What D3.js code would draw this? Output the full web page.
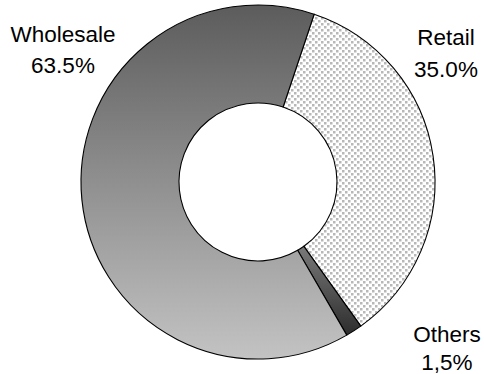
<!DOCTYPE html>
<html>
<head>
<meta charset="utf-8">
<script src="https://cdn.jsdelivr.net/npm/d3@7"></script>
<style>
  html, body { margin: 0; padding: 0; background: #fff; }
  svg { display: block; }
  text { font-family: "Liberation Sans", Arial, sans-serif; fill: #000; }
</style>
</head>
<body>
<svg id="chart" width="484" height="374"></svg>
<script>
// Sales split by channel (percent of total)
const categories = ["Retail", "Others", "Wholesale"];
const values = [35.0, 1.5, 63.5];
const valueLabels = ["35.0%", "1,5%", "63.5%"];

const width = 484, height = 374;
const cx = 258, cy = 182;
const outerR = 177, innerR = 79;
const startDeg = 18.5;

const svg = d3.select("#chart");
const defs = svg.append("defs");

// Wholesale: vertical grey ramp across the whole ring (ring-local coordinates)
const gW = defs.append("linearGradient")
  .attr("id", "fillWholesale")
  .attr("gradientUnits", "userSpaceOnUse")
  .attr("x1", 0).attr("x2", 0)
  .attr("y1", -outerR).attr("y2", outerR);
gW.append("stop").attr("offset", 0).attr("stop-color", "#5c5c5c");
gW.append("stop").attr("offset", 1).attr("stop-color", "#c3c3c3");

// Others: darker ramp inside its own slice
const gO = defs.append("linearGradient")
  .attr("id", "fillOthers")
  .attr("x1", 0).attr("x2", 0).attr("y1", 0).attr("y2", 1);
gO.append("stop").attr("offset", 0).attr("stop-color", "#7a7a7a");
gO.append("stop").attr("offset", 1).attr("stop-color", "#2c2c2c");

// Retail: soft stippled dot texture
const tile = 6;
const pat = defs.append("pattern")
  .attr("id", "fillRetail")
  .attr("patternUnits", "userSpaceOnUse")
  .attr("width", tile).attr("height", tile);
pat.append("rect").attr("width", tile).attr("height", tile).attr("fill", "#ffffff");
pat.append("rect").attr("x", 0).attr("y", 0).attr("width", 2.5).attr("height", 2.5).attr("fill", "#b8b8b8");
pat.append("rect").attr("x", 3).attr("y", 3).attr("width", 2.5).attr("height", 2.5).attr("fill", "#b8b8b8");

const fills = {
  Retail: "url(#fillRetail)",
  Others: "url(#fillOthers)",
  Wholesale: "url(#fillWholesale)"
};

const a0 = startDeg * Math.PI / 180;
const pie = d3.pie().sort(null).value(d => d.value)
  .startAngle(a0).endAngle(a0 + 2 * Math.PI);
const arc = d3.arc().innerRadius(innerR).outerRadius(outerR);

const data = categories.map((c, i) => ({ name: c, value: values[i], label: valueLabels[i] }));

const g = svg.append("g").attr("transform", `translate(${cx},${cy})`);
g.selectAll("path")
  .data(pie(data))
  .join("path")
  .attr("d", arc)
  .attr("fill", d => fills[d.data.name])
  .attr("stroke", "#000")
  .attr("stroke-width", 1.1)
  .attr("stroke-linejoin", "round");

// Label anchors (centre of each two-line label)
const labelPos = {
  Wholesale: { x: 63, y1: 42, y2: 73 },
  Retail: { x: 446, y1: 45, y2: 77 },
  Others: { x: 447, y1: 342, y2: 370 }
};

const labels = svg.append("g").attr("font-size", 22.5).attr("text-anchor", "middle");
data.forEach(d => {
  const p = labelPos[d.name];
  labels.append("text").attr("x", p.x).attr("y", p.y1).text(d.name);
  labels.append("text").attr("x", p.x).attr("y", p.y2).text(d.label);
});
</script>
</body>
</html>
